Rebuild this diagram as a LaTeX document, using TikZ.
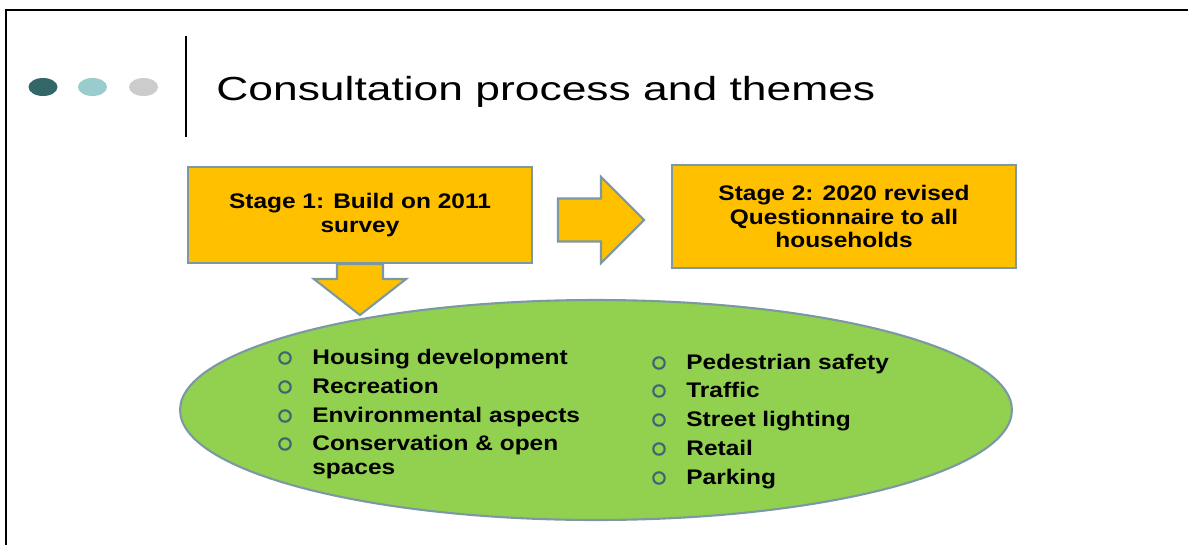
\documentclass[tikz,border=0pt]{standalone}
\usepackage{fontspec}
\setmainfont{Liberation Sans}
\newfontfamily\titlefont[FakeStretch=1.33]{Liberation Sans}
\newfontfamily\boxfont[FakeStretch=1.16]{Liberation Sans}
\usepackage{tikz}
\usetikzlibrary{arrows.meta,
                positioning,
                shapes.geometric
            }

\definecolor{dotdark}{RGB}{51,102,102}
\definecolor{dotlight}{RGB}{153,204,204}
\definecolor{dotgrey}{RGB}{204,204,204}
\definecolor{stageorange}{RGB}{255,192,0}
\definecolor{edgeblue}{RGB}{124,152,163}
\definecolor{themegreen}{RGB}{146,208,80}
\definecolor{bulletteal}{RGB}{60,100,115}

\tikzset{
    stagebox/.style={draw=edgeblue, line width=1.2pt, fill=stageorange, align=center,
                     minimum width=6.88cm, inner sep=0pt,
                     font=\boxfont\bfseries\fontsize{12}{13.6}\selectfont},
    blockarrow/.style={draw=edgeblue, line width=1.2pt, fill=stageorange},
    themeitem/.style={anchor=base west, inner sep=0pt, align=left,
                      font=\boxfont\bfseries\fontsize{12}{13.6}\selectfont},
    bulletdot/.style={draw=bulletteal, line width=1.2pt, circle, minimum size=6.5pt, inner sep=0pt}
}

\begin{document}
\begin{tikzpicture}[x=0.02cm, y=-0.02cm]
            \useasboundingbox (0, 0) rectangle (1188, 545);
            \draw[line width=1.7pt] (1188, 10) -- (6, 10) -- (6, 545);
            \fill[dotdark] (43, 87) ellipse (14.5 and 9);
            \fill[dotlight] (92.5, 87) ellipse (14.5 and 9);
            \fill[dotgrey] (143.5, 87) ellipse (14.5 and 9);
            \draw[line width=1.7pt] (186, 36) -- (186, 137);
            \node[anchor=base west, inner sep=0pt, font=\titlefont\fontsize{19}{22}\selectfont] (title) at (216, 100) {Consultation process and themes};
            \node[stagebox, minimum height=1.92cm] (stage1) at (360, 215) {Stage 1: Build on 2011\\survey};
            \node[stagebox, minimum height=2.06cm] (stage2) at (844, 216.5) {Stage 2: 2020 revised\\Questionnaire to all\\households};
            \node[draw=edgeblue, line width=1.2pt, fill=themegreen, ellipse, minimum width=16.64cm, minimum height=4.4cm, inner sep=0pt] (themes) at (596, 410) {};
            % block arrows between the stages
            \coordinate (downstart) at (stage1.south);
            \draw[blockarrow] ([shift={(-23,0)}]downstart) -- ++(46,0) -- ++(0,15) -- ++(23,0) -- ++(-46,36) -- ++(-46,-36) -- ++(23,0) -- cycle;
            \coordinate (rightstart) at ([shift={(25,5)}]stage1.east);
            \draw[blockarrow] ([shift={(0,-21.5)}]rightstart) -- ++(43,0) -- ++(0,-21.5) -- ++(43,43) -- ++(-43,43) -- ++(0,-21.5) -- ++(-43,0) -- cycle;
            % themes, left column
            \node[bulletdot] (b1) at (285, 358) {};
            \node[themeitem] (t1) at (312, 364) {Housing development};
            \node[bulletdot] (b2) at (285, 387) {};
            \node[themeitem] (t2) at (312, 393) {Recreation};
            \node[bulletdot] (b3) at (285, 416) {};
            \node[themeitem] (t3) at (312, 422) {Environmental aspects};
            \node[bulletdot] (b4) at (285, 444) {};
            \node[themeitem] (t4) at (312, 474) {Conservation \& open\\spaces};
            % themes, right column
            \node[bulletdot] (b5) at (659, 363) {};
            \node[themeitem] (t5) at (686, 369) {Pedestrian safety};
            \node[bulletdot] (b6) at (659, 391) {};
            \node[themeitem] (t6) at (686, 397) {Traffic};
            \node[bulletdot] (b7) at (659, 420) {};
            \node[themeitem] (t7) at (686, 426) {Street lighting};
            \node[bulletdot] (b8) at (659, 449) {};
            \node[themeitem] (t8) at (686, 455) {Retail};
            \node[bulletdot] (b9) at (659, 478) {};
            \node[themeitem] (t9) at (686, 484) {Parking};
        \end{tikzpicture}
\end{document}
